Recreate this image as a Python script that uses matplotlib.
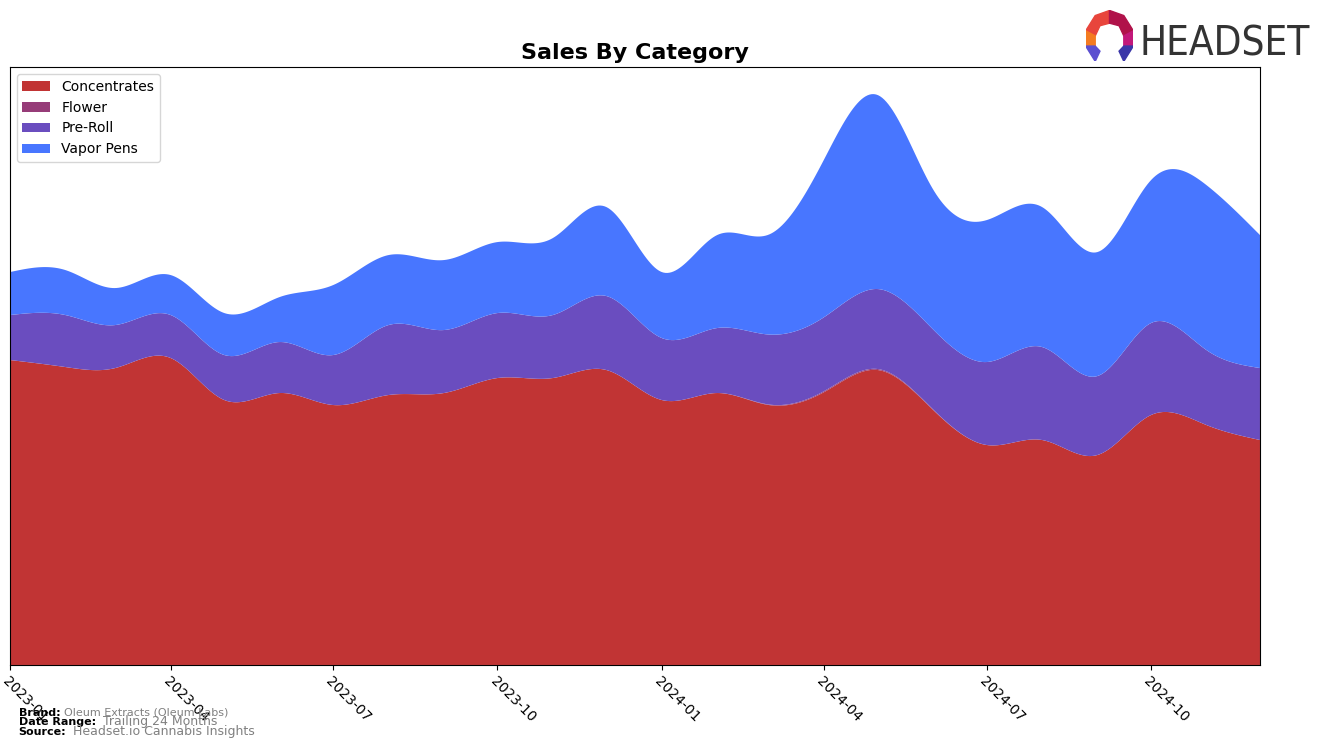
import matplotlib
matplotlib.use("Agg")
import matplotlib.pyplot as plt
import matplotlib.dates as mdates
from matplotlib.patches import Polygon
import numpy as np
import pandas as pd

# monthly values (arbitrary units)
months = pd.date_range("2023-01-01", "2024-12-01", freq="MS")
concentrates = [305, 298, 297, 307, 265, 272, 260, 270, 272, 287, 287, 295,
                265, 272, 260, 273, 295, 255, 220, 225, 210, 250, 240, 225]
flower = [0, 0, 0, 0, 0, 0, 0, 0, 0, 0, 0, 0,
          0, 0, 0.5, 1, 1, 0.5, 0, 0, 0, 0, 0, 0]
pre_roll = [45, 52, 43, 43, 45, 51, 50, 70, 63, 65, 63, 74,
            62, 65, 70, 74, 80, 80, 83, 93, 79, 92, 75, 72]
vapor_pens = [43, 45, 37, 40, 42, 45, 70, 70, 70, 71, 77, 89,
              66, 93, 100, 158, 194, 140, 142, 140, 124, 143, 165, 133]

labels = ["Concentrates", "Flower", "Pre-Roll", "Vapor Pens"]
colors = ["#C13434", "#963C78", "#6A4DBF", "#4876FF"]


def smooth(x, y, n=600):
    # natural cubic spline through the monthly points, only for drawing
    x = np.asarray(x, float)
    y = np.asarray(y, float)
    h = np.diff(x)
    k = len(x)
    A = np.zeros((k, k))
    b = np.zeros(k)
    A[0, 0] = A[-1, -1] = 1
    for i in range(1, k - 1):
        A[i, i - 1] = h[i - 1]
        A[i, i] = 2 * (h[i - 1] + h[i])
        A[i, i + 1] = h[i]
        b[i] = 6 * ((y[i + 1] - y[i]) / h[i] - (y[i] - y[i - 1]) / h[i - 1])
    m = np.linalg.solve(A, b)
    xs = np.linspace(x[0], x[-1], n)
    idx = np.clip(np.searchsorted(x, xs) - 1, 0, k - 2)
    t = xs - x[idx]
    hi = h[idx]
    a = (m[idx + 1] - m[idx]) / (6 * hi)
    bb = m[idx] / 2
    c = (y[idx + 1] - y[idx]) / hi - hi * (2 * m[idx] + m[idx + 1]) / 6
    ys = y[idx] + c * t + bb * t ** 2 + a * t ** 3
    return xs, np.clip(ys, 0, None)


xnum = mdates.date2num(months)
series = [concentrates, flower, pre_roll, vapor_pens]
curves = []
for s in series:
    xs, ys = smooth(xnum, s)
    curves.append(ys)

fig = plt.figure(figsize=(13.24, 7.48), dpi=100)
ax = fig.add_axes([0.00755, 0.111, 0.9441, 0.7993])
ax.stackplot(mdates.num2date(xs), *curves, labels=labels, colors=colors)

ax.set_xlim(months[0], months[-1])
ax.set_ylim(0, 598)
ax.set_yticks([])
ax.xaxis.set_major_locator(mdates.MonthLocator(bymonth=[1, 4, 7, 10]))
ax.xaxis.set_major_formatter(mdates.DateFormatter("%Y-%m"))
plt.setp(ax.get_xticklabels(), rotation=-45, ha="left", rotation_mode="anchor", fontsize=10)
ax.set_title("Sales By Category", fontsize=16, fontweight="bold")
ax.legend(loc="upper left", fontsize=10)

# footer
fig.text(0.014, 0.043, "Brand:", fontsize=8, fontweight="bold")
fig.text(0.048, 0.043, "Oleum Extracts (Oleum Labs)", fontsize=8, color="gray")
fig.text(0.014, 0.031, "Date Range:", fontsize=8, fontweight="bold")
fig.text(0.078, 0.031, "Trailing 24 Months", fontsize=9, color="gray")
fig.text(0.014, 0.017, "Source:", fontsize=8, fontweight="bold")
fig.text(0.055, 0.017, "Headset.io Cannabis Insights", fontsize=9, color="gray")

# logo
lg = fig.add_axes([0.820, 0.918, 0.036, 0.068])
lg.set_xlim(0, 10)
lg.set_ylim(0, 10)
lg.axis("off")
lg.add_patch(Polygon([[0, 6], [2, 9], [5, 10], [5, 7.5], [3, 7], [2, 5]], color="#E8453C"))
lg.add_patch(Polygon([[5, 10], [8, 9], [10, 6], [8, 5], [7, 7], [5, 7.5]], color="#B0124A"))
lg.add_patch(Polygon([[0, 6], [2, 5], [2, 3], [0, 3]], color="#F47B20"))
lg.add_patch(Polygon([[10, 6], [8, 5], [8, 3], [10, 3]], color="#C2187A"))
lg.add_patch(Polygon([[0, 3], [2, 3], [3, 2], [2, 0]], color="#5B4FD0"))
lg.add_patch(Polygon([[10, 3], [8, 3], [7, 2], [8, 0]], color="#3A36A8"))
fig.text(0.861, 0.926, "HEADSET", fontsize=29, color="#333333",
         fontfamily="DejaVu Sans", fontstretch="condensed")

fig.savefig("out.png", dpi=100)
